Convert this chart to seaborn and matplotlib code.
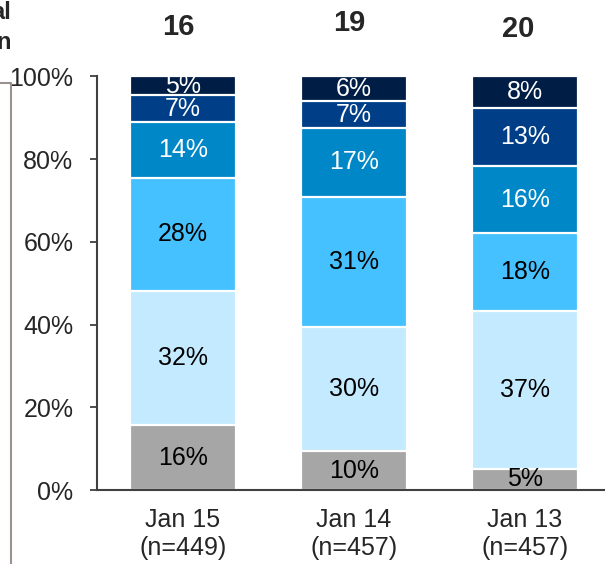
import seaborn as sns
import matplotlib.pyplot as plt
from matplotlib.lines import Line2D

# data (segments bottom -> top)
periods = ["Jan 15\n(n=449)", "Jan 14\n(n=457)", "Jan 13\n(n=457)"]
totals = ["16", "19", "20"]

seg_gray = [15.7, 9.4, 5.1]
seg_vlight = [32.4, 30.0, 38.2]
seg_light = [27.4, 31.5, 18.8]
seg_med = [13.4, 16.7, 16.3]
seg_dark = [6.7, 6.4, 13.9]
seg_navy = [4.4, 6.0, 7.7]

lab_gray = ["16%", "10%", "5%"]
lab_vlight = ["32%", "30%", "37%"]
lab_light = ["28%", "31%", "18%"]
lab_med = ["14%", "17%", "16%"]
lab_dark = ["7%", "7%", "13%"]
lab_navy = ["5%", "6%", "8%"]

segments = [seg_gray, seg_vlight, seg_light, seg_med, seg_dark, seg_navy]
seg_labels = [lab_gray, lab_vlight, lab_light, lab_med, lab_dark, lab_navy]
colors = ["#A6A6A6", "#C4EAFF", "#45C1FF", "#0087C8", "#003F87", "#001E45"]
text_colors = ["black", "black", "black", "white", "white", "white"]

sns.set_theme(style="white")
plt.rcParams["font.family"] = ["Liberation Sans", "DejaVu Sans"]

fig = plt.figure(figsize=(6.05, 5.64), dpi=100)
ax = fig.add_axes([0.1603, 0.1312, 0.8397, 0.7332])

# cumulative tops
tops = []
running = [0, 0, 0]
for seg in segments:
    running = [r + s for r, s in zip(running, seg)]
    tops.append(running)

# draw from the top segment down so lower ones overlay
for i in range(len(segments) - 1, -1, -1):
    sns.barplot(x=periods, y=tops[i], color=colors[i], width=0.62,
                edgecolor="white", linewidth=1.6, saturation=1,
                errorbar=None, ax=ax)

# segment labels
for i, seg in enumerate(segments):
    for j in range(len(periods)):
        mid = tops[i][j] - seg[j] / 2
        ax.text(j, mid, seg_labels[i][j], ha="center", va="center",
                fontsize=18, color=text_colors[i])

# totals above bars
tot_x = [-0.03, -0.03, -0.04]
tot_y = [112, 113, 111.5]
for j, t in enumerate(totals):
    ax.text(j + tot_x[j], tot_y[j], t, ha="center", va="center",
            fontsize=21, fontweight="bold", clip_on=False)

ax.set_xlim(-0.503, 2.468)
ax.set_ylim(0, 100)
ax.set_yticks([0, 20, 40, 60, 80, 100])
ax.set_yticklabels(["0%", "20%", "40%", "60%", "80%", "100%"])
ax.tick_params(axis="y", direction="out", length=5, width=1.3,
               color="#404040", labelsize=18, pad=12, left=True)
ax.tick_params(axis="x", length=0, labelsize=18, pad=13)
for lbl in ax.get_xticklabels():
    lbl.set_linespacing(1.2)
ax.set_xlabel("")
ax.set_ylabel("")

for side in ["top", "right"]:
    ax.spines[side].set_visible(False)
for side in ["left", "bottom"]:
    ax.spines[side].set_color("#404040")
    ax.spines[side].set_linewidth(1.5)

# cut-off header text and bracket line on the left edge
fig.text(0.018, 0.978, "al", ha="right", va="center", fontsize=17,
         fontweight="bold")
fig.text(0.018, 0.924, "n", ha="right", va="center", fontsize=17,
         fontweight="bold")
fig.add_artist(Line2D([0, 0.019, 0.019], [0.853, 0.853, 0], color="#9C918C",
                      linewidth=1.5, transform=fig.transFigure))

fig.savefig("out.png", dpi=100)
